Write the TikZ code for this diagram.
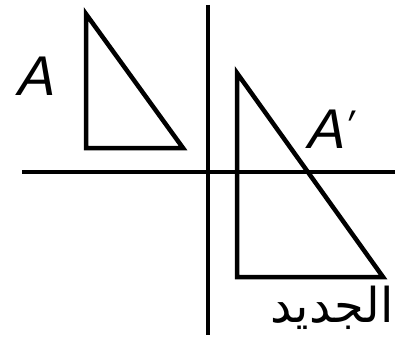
\documentclass[tikz,border=0pt]{standalone}
\usepackage{fontspec}
\setmainfont{Liberation Sans}
\newfontfamily\labfont[FakeSlant=0.22]{Liberation Sans}
\newfontfamily\arabicfont[Script=Arabic]{DejaVu Sans}
\TeXXeTstate=1
\begin{document}
\begin{tikzpicture}[x=1pt,y=-1pt,
  ln/.style={line width=4.5pt},
  tri/.style={line width=4.5pt,line join=miter},
  lab/.style={font=\fontsize{56}{56}\selectfont\labfont,inner sep=0pt}]
\useasboundingbox (0,0) rectangle (398,337);
\coordinate (vt) at (208,5);
\coordinate (vb) at (208,335);
\coordinate (hl) at (22,172);
\coordinate (hr) at (395,172);
\draw[ln] (vt) -- (vb);
\draw[ln] (hl) -- (hr);
\coordinate (a1) at (86,14);
\coordinate (a2) at (86,148);
\coordinate (a3) at (183,148);
\draw[tri] (a1) -- (a2) -- (a3) -- cycle;
\coordinate (b1) at (237,73);
\coordinate (b2) at (237,277);
\coordinate (b3) at (383,277);
\draw[tri] (b1) -- (b2) -- (b3) -- cycle;
\node[lab,anchor=base] (la) at (34,95) {A};
\node[lab,anchor=base west] (lb) at (305,148) {A\kern1pt\raisebox{10pt}{\fontsize{40}{40}\selectfont\labfont\char"2032}};
\node[inner sep=0pt,anchor=base,font=\fontsize{48}{48}\selectfont\arabicfont] (ar) at (332,322) {\beginR الجديد\endR};
\end{tikzpicture}
\end{document}
